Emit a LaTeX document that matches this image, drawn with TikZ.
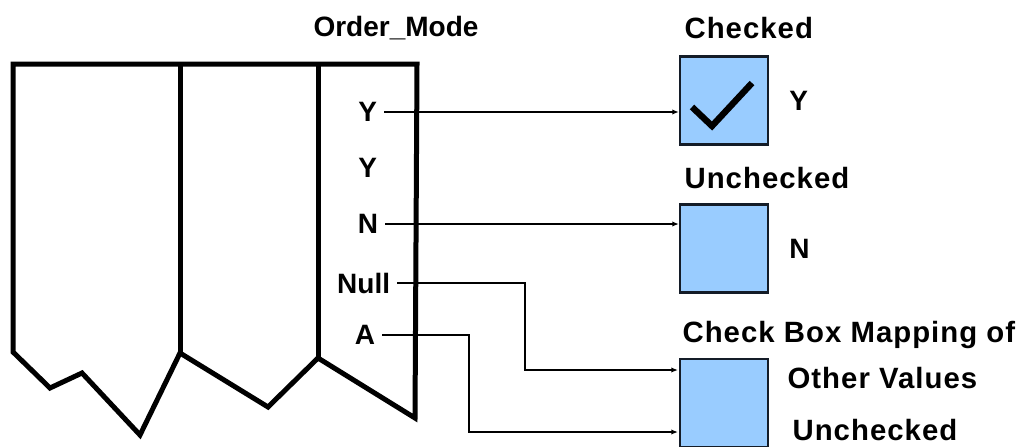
\documentclass[tikz,border=0pt]{standalone}
\usepackage{fontspec}
\setmainfont{Liberation Sans}
\newfontfamily\widefont[LetterSpace=3.5]{Liberation Sans}
\usetikzlibrary{positioning, arrows.meta}

\definecolor{boxblue}{RGB}{153,204,255}
\definecolor{boxline}{RGB}{20,28,40}

\tikzset{
    lbl/.style={font=\fontsize{21}{25}\selectfont\bfseries, inner sep=1pt},
    boxlbl/.style={font=\widefont\fontsize{22}{26}\selectfont\bfseries, inner sep=1pt},
    rowlbl/.style={lbl, inner xsep=5pt},
    cbox/.style={draw=boxline, line width=1.6pt, fill=boxblue,
        minimum width=66pt, minimum height=66pt},
    link/.style={line width=1.1pt, -{Latex[length=5pt,width=4pt]}},
    tableline/.style={line width=3.75pt, line join=miter}
}

\begin{document}
\begin{tikzpicture}[x=0.75pt, y=-0.75pt]
    \useasboundingbox (0,0) rectangle (1023,446);
    % the table
    \draw [tableline] (13,352) -- (13,64) -- (417,64) -- (415,418) -- (318,358)
        -- (268,407) -- (180,353) -- (140,435) -- (82,373) -- (50,388) -- cycle;
    \draw [tableline] (180,64) -- (180,353);
    \draw [tableline] (318,64) -- (318,358);
    \node [lbl] (col) at (396,28) {Order\_Mode};
    % values of the column
    \node [rowlbl, anchor=east] (y1) at (384,112) {Y};
    \node [rowlbl, anchor=east] (y2) at (384,168) {Y};
    \node [rowlbl, anchor=east] (n) at (385,224) {N};
    \node [rowlbl, anchor=east] (null) at (397,283) {Null};
    \node [rowlbl, anchor=east] (a) at (382,335) {A};
    % the check boxes
    \node [cbox] (box1) at (724,100.5) {};
    \node [cbox] (box2) at (724,248.5) {};
    \node [cbox] (box3) at (724,403) {};
    \draw [line width=4.8pt] (692,107) -- (712,126) -- (752,83);
    \node [boxlbl, anchor=west] (chk) at (683,28) {Checked};
    \node [lbl, right=14pt of box1] (yval) {Y};
    \node [boxlbl, anchor=west] (unchk) at (683,178) {Unchecked};
    \node [lbl, right=14pt of box2] (nval) {N};
    \node [boxlbl, anchor=west] (map) at (681,335) {Check Box Mapping of};
    \node [boxlbl, anchor=west] (other) at (786,378) {Other Values};
    \node [boxlbl, anchor=west] (unchk2) at (791,430) {Unchecked};
    % the mappings
    \coordinate (in3a) at (678,370);
    \coordinate (in3b) at (678,432);
    \draw [link] (y1.east) -- (y1.east -| box1.west);
    \draw [link] (n.east) -- (n.east -| box2.west);
    \draw [link] (null.east) -- ++(128,0) |- (in3a);
    \draw [link] (a.east) -- ++(87,0) |- (in3b);
\end{tikzpicture}
\end{document}
